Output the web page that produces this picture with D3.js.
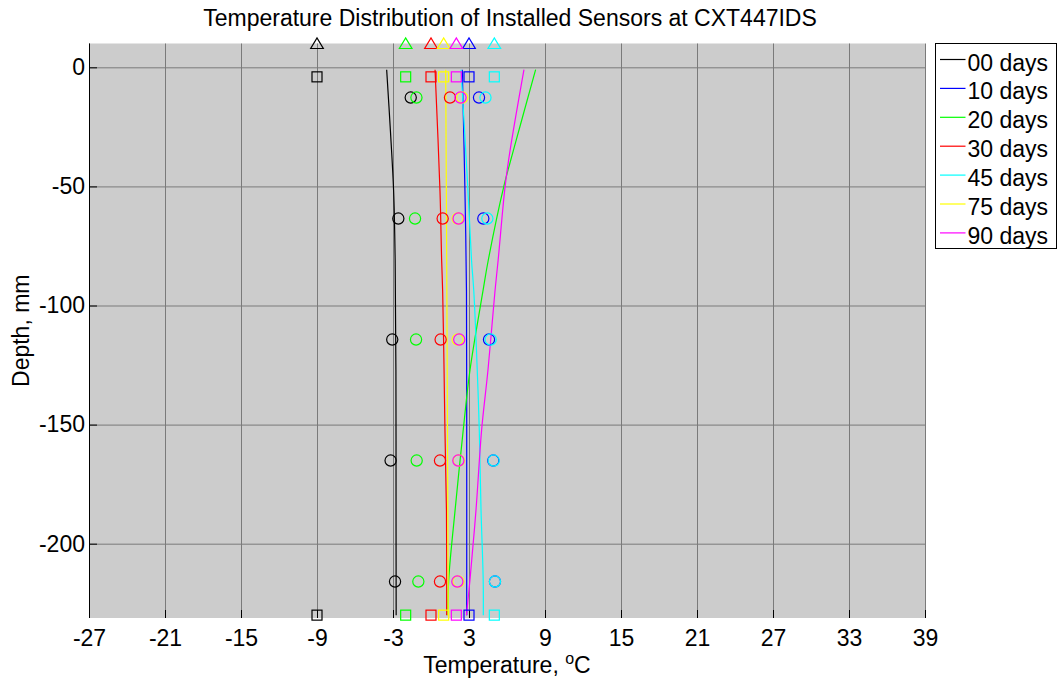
<html>

<head>
  <meta charset="utf-8">
  <title>Temperature Distribution</title>
  <script src="https://d3js.org/d3.v7.min.js"></script>
  <style>
    body {
      margin: 0;
      background: #fff;
    }

    text {
      font-family: 'Liberation Sans', Arial, sans-serif;
      font-size: 23px;
      fill: #000;
    }

    .gridlines line {
      stroke: #7a7a7a;
      stroke-width: 1;
    }

    .gridlines .domain {
      stroke: none;
    }

    .axis .domain,
    .axis line {
      stroke: #000;
    }
  </style>
</head>

<body>
  <svg id="tempChart" width="1059" height="681"></svg>

  <script>
    // series (legend order)
    const seriesNames = ["00 days", "10 days", "20 days", "30 days", "45 days", "75 days", "90 days"];
    const seriesColors = ["#000000", "#0000ff", "#00ff00", "#ff0000", "#00ffff", "#ffff00", "#ff00ff"];

    // sensor depths (mm) and the measured temperatures (circles)
    const sensorDepths = [-12.7, -63.5, -114.3, -165.1, -215.9];
    const sensorTemps = [
      [-1.6, -2.58, -3.06, -3.19, -2.84],
      [3.79, 4.13, 4.58, 4.92, 5.05],
      [-1.15, -1.26, -1.18, -1.13, -1.0],
      [1.5, 0.92, 0.76, 0.71, 0.71],
      [4.3, 4.45, 4.71, 4.95, 5.05],
      [2.47, 2.1, 2.1, 2.2, 2.16],
      [2.33, 2.18, 2.23, 2.16, 2.08]
    ];

    // air (triangle) and surface/bottom (square) readings
    const airDepth = 10;
    const boundaryDepths = [-4, -230];
    const boundaryTemps = [-9, 3, -2, 0, 5, 1, 2];

    // fitted profile curves, [depth, temp]
    const fitCurves = [
      [[-1, -3.5], [-27, -3.2], [-52, -2.95], [-81, -2.83], [-127, -2.77], [-190, -2.76], [-230, -2.75]],
      [[-1, 2.47], [-52, 2.68], [-94, 2.8], [-160, 2.82], [-230, 2.82]],
      [[-1, 8.26], [-35, 6.5], [-50, 5.75], [-81, 4.52], [-94, 4.1], [-127, 3.08], [-152, 2.55], [-186, 1.9], [-215, 1.4], [-230, 1.35]],
      [[-1, 0.32], [-52, 0.71], [-81, 0.84], [-94, 0.92], [-127, 1.03], [-152, 1.1], [-186, 1.22], [-230, 1.24]],
      [[-1, 2.37], [-50, 2.9], [-81, 3.2], [-94, 3.38], [-127, 3.65], [-152, 3.81], [-186, 3.95], [-215, 4.12], [-230, 4.13]],
      [[-1, 1.16], [-81, 1.24], [-152, 1.3], [-230, 1.36]],
      [[-1, 7.34], [-35, 6.24], [-50, 5.85], [-81, 5.3], [-94, 5.05], [-127, 4.5], [-152, 4.0], [-186, 3.55], [-215, 3.08], [-230, 2.8]]
    ];

    const xTicks = [-27, -21, -15, -9, -3, 3, 9, 15, 21, 27, 33, 39];
    const yTicks = [0, -50, -100, -150, -200];

    const svg = d3.select("svg#tempChart");
    const margin = { top: 43.5, left: 89, right: 134, bottom: 63 };
    const plotW = 1059 - margin.left - margin.right;
    const plotH = 681 - margin.top - margin.bottom;

    const xScale = d3.scaleLinear().domain([-27, 39]).range([0, plotW]);
    const yScale = d3.scaleLinear().domain([-231.2, 10]).range([plotH, 0]);

    const chart = svg.append("g")
      .attr("transform", "translate(" + margin.left + "," + margin.top + ")");

    // plot background
    chart.append("rect")
      .attr("width", plotW)
      .attr("height", plotH)
      .attr("fill", "#cccccc");

    // gridlines
    chart.append("g")
      .attr("class", "gridlines")
      .attr("transform", "translate(0," + plotH + ")")
      .call(d3.axisBottom(xScale).tickValues(xTicks).tickSize(-plotH).tickFormat(""));
    chart.append("g")
      .attr("class", "gridlines")
      .call(d3.axisLeft(yScale).tickValues(yTicks).tickSize(-plotW).tickFormat(""));

    // axes (ticks pointing inward), plain hyphen for negatives
    const bottomAxis = chart.append("g")
      .attr("class", "axis")
      .attr("transform", "translate(0," + plotH + ")")
      .call(d3.axisBottom(xScale).tickValues(xTicks).tickSize(-8).tickSizeOuter(0)
        .tickPadding(16).tickFormat(d => String(d)));
    bottomAxis.selectAll("text").attr("font-size", null).attr("font-family", null).attr("dy", "0.5em");

    const leftAxis = chart.append("g")
      .attr("class", "axis")
      .call(d3.axisLeft(yScale).tickValues(yTicks).tickSize(-8).tickSizeOuter(0)
        .tickPadding(4).tickFormat(d => String(d)));
    leftAxis.selectAll("text").attr("font-size", null).attr("font-family", null);
    leftAxis.selectAll(".domain").attr("d", "M0.5,0V" + plotH);
    bottomAxis.selectAll(".domain").attr("d", "M0," + (plotH + 0.5) + "H" + plotW);

    // fitted curves
    const line = d3.line()
      .x(d => xScale(d[1]))
      .y(d => yScale(d[0]))
      .curve(d3.curveCatmullRom);

    chart.selectAll("path.fit")
      .data(fitCurves)
      .enter()
      .append("path")
      .attr("class", "fit")
      .attr("d", d => line(d))
      .attr("fill", "none")
      .attr("stroke", (d, i) => seriesColors[i])
      .attr("stroke-width", 1.2);

    // markers
    seriesNames.forEach((name, i) => {
      const g = chart.append("g").attr("class", "series");

      g.selectAll("circle")
        .data(sensorTemps[i])
        .enter()
        .append("circle")
        .attr("cx", d => xScale(d))
        .attr("cy", (d, j) => yScale(sensorDepths[j]))
        .attr("r", 5.6)
        .attr("fill", "none")
        .attr("stroke", seriesColors[i])
        .attr("stroke-width", 1.2);

      g.selectAll("rect")
        .data(boundaryDepths)
        .enter()
        .append("rect")
        .attr("x", xScale(boundaryTemps[i]) - 5)
        .attr("y", d => yScale(d) - 5)
        .attr("width", 10)
        .attr("height", 10)
        .attr("fill", "none")
        .attr("stroke", seriesColors[i])
        .attr("stroke-width", 1.2);

      const tx = xScale(boundaryTemps[i]);
      const ty = yScale(airDepth);
      g.append("path")
        .attr("d", `M${tx - 6.3},${ty + 5} L${tx + 6.3},${ty + 5} L${tx},${ty - 5.5} Z`)
        .attr("fill", "none")
        .attr("stroke", seriesColors[i])
        .attr("stroke-width", 1.2);
    });

    // title and labels
    svg.append("text")
      .attr("x", margin.left + plotW / 2 + 3)
      .attr("y", 26)
      .attr("text-anchor", "middle")
      .text("Temperature Distribution of Installed Sensors at CXT447IDS");

    const xLabel = svg.append("text")
      .attr("x", margin.left + plotW / 2)
      .attr("y", 673)
      .attr("text-anchor", "middle");
    xLabel.append("tspan").text("Temperature, ");
    xLabel.append("tspan").attr("dy", -9).attr("font-size", "16px").text("o");
    xLabel.append("tspan").attr("dy", 9).text("C");

    svg.append("text")
      .attr("transform", "translate(29," + (margin.top + plotH / 2) + ") rotate(-90)")
      .attr("text-anchor", "middle")
      .text("Depth, mm");

    // legend
    const legend = svg.append("g").attr("transform", "translate(935.5,43.5)");
    legend.append("rect")
      .attr("width", 121)
      .attr("height", 205)
      .attr("fill", "#fff")
      .attr("stroke", "#000");

    const items = legend.selectAll("g.item")
      .data(seriesNames)
      .enter()
      .append("g")
      .attr("class", "item")
      .attr("transform", (d, i) => `translate(0, ${16 + i * 28.9})`);

    items.append("line")
      .attr("x1", 4.5)
      .attr("x2", 30)
      .attr("y1", 0)
      .attr("y2", 0)
      .attr("stroke", (d, i) => seriesColors[i])
      .attr("stroke-width", 1.2);

    items.append("text")
      .attr("x", 32)
      .attr("y", 11)
      .text(d => d);
  </script>
</body>

</html>
